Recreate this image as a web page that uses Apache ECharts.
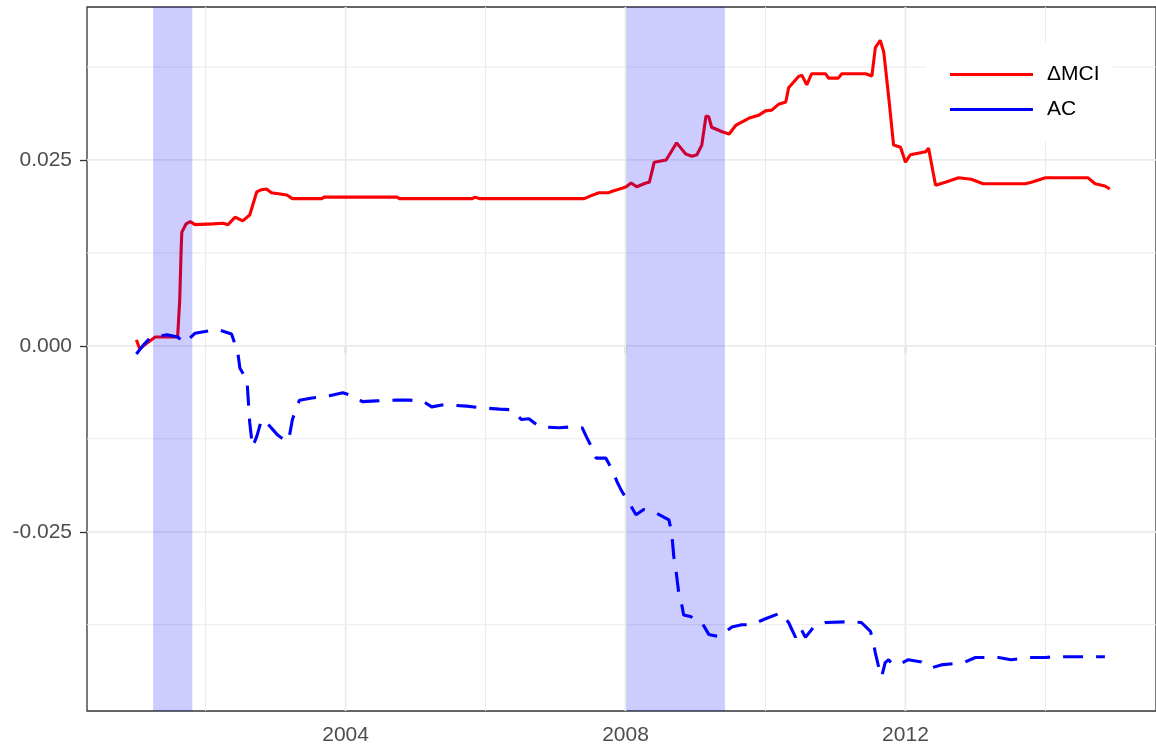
<!DOCTYPE html>
<html>
<head>
<meta charset="utf-8">
<title>MCI vs AC</title>
<script src="https://cdn.jsdelivr.net/npm/echarts@6.0.0/dist/echarts.min.js"></script>
<style>
  html, body { margin: 0; padding: 0; background: #fff; }
  #chart { width: 1156px; height: 748px; }
</style>
</head>
<body>
<div id="chart"></div>
<script>
// ΔMCI (red, solid)
const mciYears = [2001.01, 2001.06, 2001.18, 2001.28, 2001.60, 2001.63, 2001.65, 2001.66, 2001.72, 2001.78,
  2001.85, 2002.10, 2002.25, 2002.32, 2002.42, 2002.53, 2002.63, 2002.73, 2002.80, 2002.87,
  2002.94, 2003.16, 2003.24, 2003.66, 2003.69, 2004.74, 2004.77, 2005.81, 2005.85, 2005.91,
  2007.41, 2007.51, 2007.62, 2007.76, 2007.81, 2007.95, 2008.01, 2008.08, 2008.16, 2008.29,
  2008.34, 2008.41, 2008.58, 2008.73, 2008.86, 2008.95, 2009.02, 2009.09, 2009.15, 2009.19,
  2009.23, 2009.38, 2009.48, 2009.58, 2009.76, 2009.90, 2010.00, 2010.09, 2010.19, 2010.29,
  2010.33, 2010.47, 2010.52, 2010.59, 2010.66, 2010.86, 2010.90, 2011.04, 2011.09, 2011.43,
  2011.52, 2011.57, 2011.64, 2011.69, 2011.76, 2011.83, 2011.93, 2012.00, 2012.07, 2012.29,
  2012.33, 2012.37, 2012.43, 2012.57, 2012.76, 2012.94, 2013.11, 2013.71, 2013.80, 2014.00,
  2014.61, 2014.71, 2014.85, 2014.92];
const mciValues = [0.0008, -0.0004, 0.0005, 0.0012, 0.0012, 0.0062, 0.0129, 0.0153, 0.0164, 0.0167,
  0.0163, 0.0164, 0.0165, 0.0163, 0.0173, 0.0168, 0.0176, 0.0207, 0.0210, 0.0211,
  0.0206, 0.0203, 0.0198, 0.0198, 0.0200, 0.0200, 0.0198, 0.0198, 0.0200, 0.0198,
  0.0198, 0.0202, 0.0206, 0.0206, 0.0208, 0.0212, 0.0214, 0.0219, 0.0214, 0.0219,
  0.0220, 0.0247, 0.0250, 0.0273, 0.0258, 0.0255, 0.0257, 0.0270, 0.0309, 0.0308,
  0.0294, 0.0288, 0.0285, 0.0297, 0.0306, 0.0310, 0.0316, 0.0317, 0.0325, 0.0328,
  0.0347, 0.0362, 0.0364, 0.0351, 0.0366, 0.0366, 0.0360, 0.0360, 0.0366, 0.0366,
  0.0363, 0.0401, 0.0411, 0.0395, 0.0335, 0.0270, 0.0267, 0.0247, 0.0257, 0.0261,
  0.0266, 0.0246, 0.0216, 0.0220, 0.0226, 0.0224, 0.0218, 0.0218, 0.0220, 0.0226,
  0.0226, 0.0218, 0.0215, 0.0211];

// AC (blue, dashed)
const acYears = [2001.01, 2001.11, 2001.21, 2001.45, 2001.60, 2001.70, 2001.85, 2002.17, 2002.37, 2002.46,
  2002.49, 2002.59, 2002.60, 2002.63, 2002.67, 2002.73, 2002.80, 2002.87, 2003.03, 2003.16,
  2003.20, 2003.24, 2003.34, 2003.52, 2003.63, 2003.77, 2003.96, 2004.10, 2004.24, 2004.44,
  2004.73, 2004.91, 2005.10, 2005.23, 2005.41, 2005.73, 2005.91, 2006.20, 2006.38, 2006.51,
  2006.62, 2006.77, 2007.05, 2007.24, 2007.38, 2007.44, 2007.52, 2007.58, 2007.72, 2007.81,
  2007.88, 2007.95, 2008.05, 2008.15, 2008.26, 2008.41, 2008.48, 2008.62, 2008.66, 2008.69,
  2008.72, 2008.76, 2008.81, 2008.83, 2008.93, 2009.09, 2009.19, 2009.33, 2009.52, 2009.66,
  2009.80, 2010.00, 2010.22, 2010.33, 2010.43, 2010.50, 2010.57, 2010.69, 2010.86, 2011.19,
  2011.37, 2011.50, 2011.54, 2011.57, 2011.61, 2011.66, 2011.71, 2011.76, 2011.80, 2011.90,
  2012.04, 2012.23, 2012.37, 2012.51, 2012.83, 2013.00, 2013.33, 2013.51, 2013.78, 2014.00,
  2014.14, 2014.85];
const acValues = [-0.0011, 0.0001, 0.0011, 0.0015, 0.0012, 0.0004, 0.0017, 0.0022, 0.0016, -0.0009,
  -0.0030, -0.0046, -0.0059, -0.0103, -0.0136, -0.0122, -0.0099, -0.0103, -0.0120, -0.0129,
  -0.0120, -0.0099, -0.0073, -0.0070, -0.0069, -0.0067, -0.0063, -0.0067, -0.0075, -0.0074,
  -0.0073, -0.0073, -0.0074, -0.0082, -0.0079, -0.0081, -0.0083, -0.0085, -0.0086, -0.0099,
  -0.0098, -0.0109, -0.0110, -0.0109, -0.0110, -0.0122, -0.0137, -0.0151, -0.0151, -0.0167,
  -0.0183, -0.0196, -0.0211, -0.0227, -0.0220, -0.0223, -0.0227, -0.0234, -0.0251, -0.0284,
  -0.0301, -0.0332, -0.0351, -0.0362, -0.0364, -0.0372, -0.0388, -0.0391, -0.0378, -0.0375,
  -0.0375, -0.0367, -0.0359, -0.0372, -0.0392, -0.0379, -0.0392, -0.0378, -0.0372, -0.0371,
  -0.0372, -0.0384, -0.0398, -0.0413, -0.0429, -0.0445, -0.0426, -0.0422, -0.0427, -0.0429,
  -0.0422, -0.0425, -0.0433, -0.0429, -0.0426, -0.0419, -0.0419, -0.0422, -0.0419, -0.0419,
  -0.0418, -0.0418];

// shaded periods (start, end)
const recessions = [[2001.25, 2001.81], [2008.01, 2009.42]];

// ticks / grid
const xMajor = [2004, 2008, 2012];
const xMinor = [2002, 2006, 2010, 2014];
const yMajor = [-0.025, 0, 0.025];
const yMinor = [-0.0375, -0.0125, 0.0125, 0.0375];

const xMin = 2000.305, xMax = 2015.58;
const yMin = -0.0491, yMax = 0.04557;

const FONT = 'Liberation Sans';
const chart = echarts.init(document.getElementById('chart'));

function gridSeries(values, vertical, width) {
  return {
    type: 'custom',
    silent: true,
    z: 1,
    data: values.map(v => vertical ? [v, 0] : [xMin, v]),
    renderItem: (params, api) => {
      const cs = params.coordSys;
      const p = api.coord([api.value(0), api.value(1)]);
      const shape = vertical
        ? { x1: p[0], y1: cs.y, x2: p[0], y2: cs.y + cs.height }
        : { x1: cs.x, y1: p[1], x2: cs.x + cs.width, y2: p[1] };
      return { type: 'line', shape, style: { stroke: '#EBEBEB', lineWidth: width } };
    }
  };
}

const option = {
  animation: false,
  backgroundColor: '#fff',
  grid: {
    left: 87, right: -2, top: 7, bottom: 37,
    show: true, borderColor: '#333333', borderWidth: 1.3
  },
  legend: {
    orient: 'vertical',
    left: 926, top: 42,
    padding: [22, 13, 22, 24],
    backgroundColor: '#fff',
    icon: 'rect',
    itemWidth: 83, itemHeight: 3, itemGap: 14,
    textStyle: { fontFamily: FONT, fontSize: 21, color: '#000', padding: [0, 0, 0, 9] },
    data: ['ΔMCI', 'AC']
  },
  xAxis: {
    type: 'value', min: xMin, max: xMax,
    axisLine: { show: false },
    splitLine: { show: false },
    axisTick: { show: true, length: 7, customValues: xMajor, lineStyle: { color: '#333333', width: 1.3 } },
    axisLabel: { customValues: xMajor, margin: 14, fontFamily: FONT, fontSize: 21, color: '#4D4D4D',
      formatter: v => String(Math.round(v)) }
  },
  yAxis: {
    type: 'value', min: yMin, max: yMax,
    axisLine: { show: false },
    splitLine: { show: false },
    axisTick: { show: true, length: 7, customValues: yMajor, lineStyle: { color: '#333333', width: 1.3 } },
    axisLabel: { customValues: yMajor, margin: 15, fontFamily: FONT, fontSize: 21, color: '#4D4D4D',
      formatter: v => v.toFixed(3) }
  },
  series: [
    gridSeries(xMinor, true, 1),
    gridSeries(yMinor, false, 1),
    gridSeries(xMajor, true, 1.8),
    gridSeries(yMajor, false, 1.8),
    {
      name: 'ΔMCI',
      type: 'line',
      z: 2,
      symbol: 'none',
      data: mciYears.map((y, i) => [y, mciValues[i]]),
      lineStyle: { color: '#FF0000', width: 3.1 },
      itemStyle: { color: '#FF0000' }
    },
    {
      name: 'AC',
      type: 'line',
      z: 2,
      symbol: 'none',
      data: acYears.map((y, i) => [y, acValues[i]]),
      lineStyle: { color: '#0000FF', width: 3.1, type: [20, 13], cap: 'butt' },
      itemStyle: { color: '#0000FF' }
    },
    {
      type: 'custom',
      silent: true,
      z: 3,
      data: recessions,
      encode: { x: [0, 1] },
      renderItem: (params, api) => {
        const cs = params.coordSys;
        const x0 = api.coord([api.value(0), 0])[0];
        const x1 = api.coord([api.value(1), 0])[0];
        return {
          type: 'rect',
          shape: { x: x0, y: cs.y, width: x1 - x0, height: cs.height },
          style: { fill: 'rgba(0,0,255,0.2)' }
        };
      }
    }
  ]
};

chart.setOption(option);
window.addEventListener('resize', () => chart.resize());
</script>
</body>
</html>
